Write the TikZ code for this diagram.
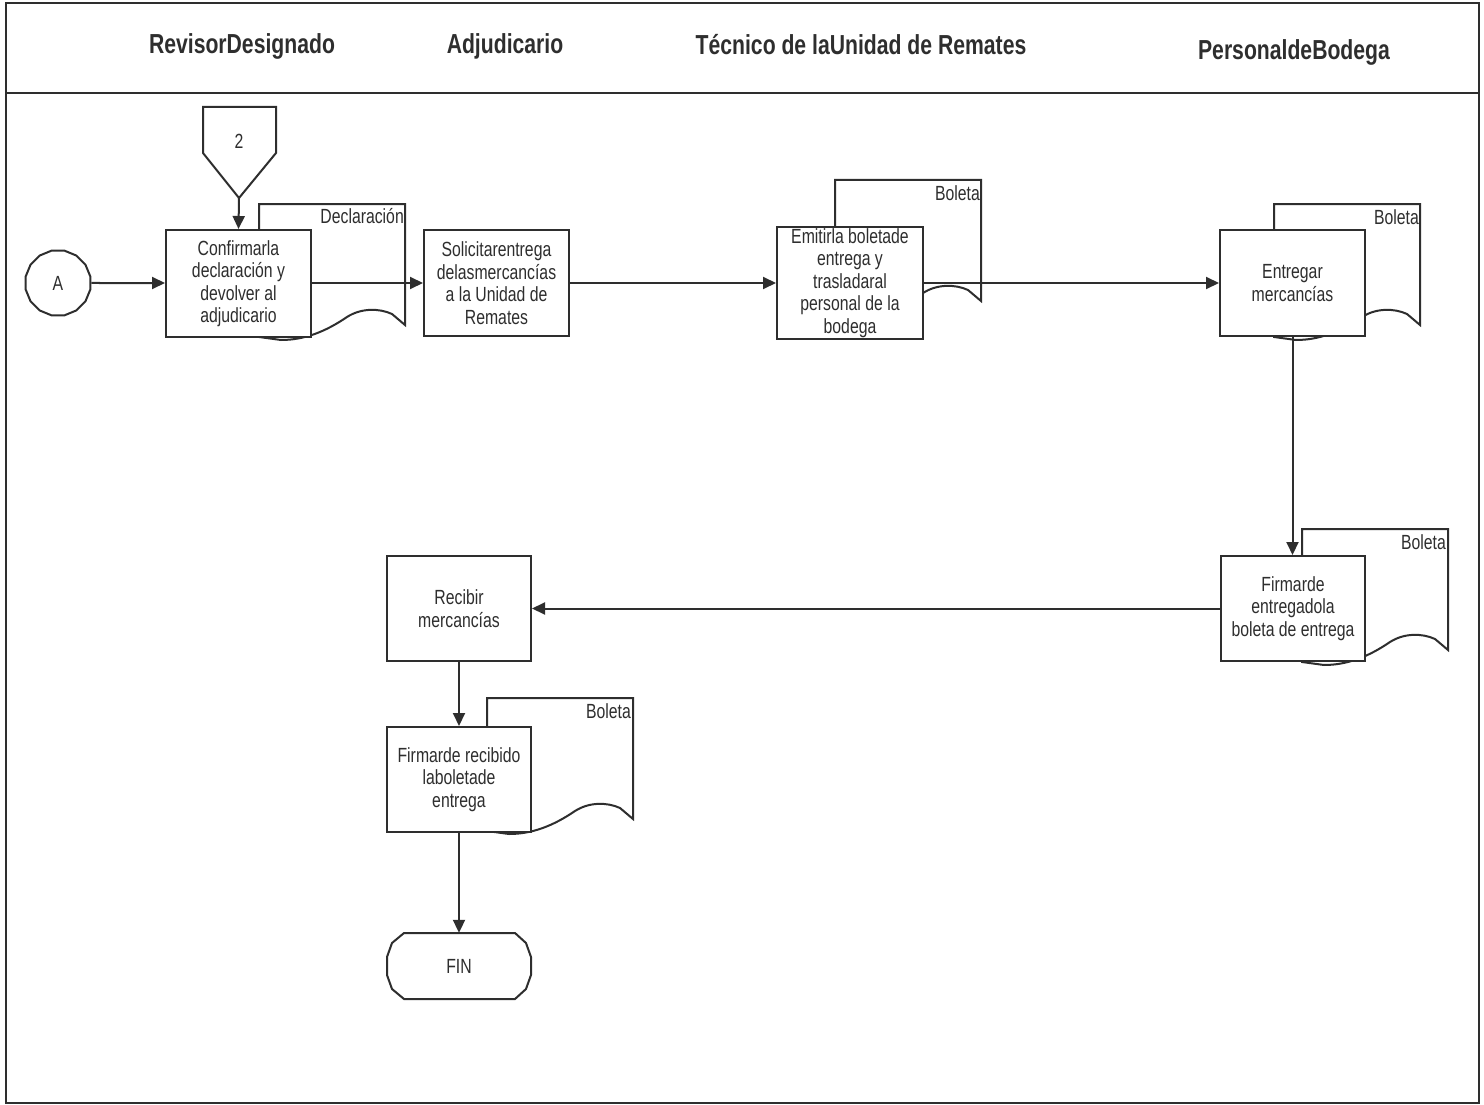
\documentclass[tikz,border=0pt]{standalone}
\usepackage{fontspec}
\setmainfont{Liberation Sans}[FakeStretch=0.77]
\usetikzlibrary{arrows.meta,shapes.geometric}
\definecolor{ink}{HTML}{2E2E2E}
\newcommand\bodyfont{\fontsize{20.5}{22.5}\selectfont}
\newcommand\hdrfont{\fontsize{27.5}{30}\selectfont\bfseries}
\tikzset{
  line/.style={draw=ink,line width=2pt},
  box/.style={draw=ink,line width=2pt,fill=white,minimum width=145pt,minimum height=106pt,
    inner sep=0pt,align=center,font=\bodyfont,text=ink},
  arr/.style={draw=ink,line width=2pt,-{Triangle[length=13pt,width=12pt]}},
  lbl/.style={anchor=north east,inner sep=1pt,font=\bodyfont,text=ink},
  hdr/.style={font=\hdrfont,text=ink,inner sep=1pt},
  docu/.pic={\draw[line,fill=white] (0,0) -- (146,0) -- (146,121) -- (133,110)
      .. controls (120,104) and (102,104) .. (88,113)
      .. controls (66,128) and (45,136) .. (22,136) -- (0,133) -- cycle;}
}
\begin{document}
\begin{tikzpicture}[x=1pt,y=-1pt]
\useasboundingbox (0,0) rectangle (1484,1105);
% frame
\draw[line] (6,3) rectangle (1479,1103);
\draw[line] (6,93) -- (1479,93);
% headers
\node[hdr] (h1) at (242,46) {RevisorDesignado};
\node[hdr] (h2) at (505,46) {Adjudicario};
\node[hdr] (h3) at (861,45) {Técnico de laUnidad de Remates};
\node[hdr] (h4) at (1294,52) {PersonaldeBodega};
% documents
\pic at (259,204) {docu};
\node[lbl] (d1) at (405,207) {Declaración};
\pic at (835,180) {docu};
\node[lbl] (d3) at (981,184) {Boleta};
\pic at (1274,204) {docu};
\node[lbl] (d4) at (1420,208) {Boleta};
\pic at (1302,529) {docu};
\node[lbl] (d5) at (1447,533) {Boleta};
\pic at (487,698) {docu};
\node[lbl] (d7) at (632,702) {Boleta};
% connector 2
\draw[line,fill=white] (203,107) -- (276,107) -- (276,153) -- (239,198) -- (203,153) -- cycle;
\node[font=\bodyfont,text=ink] (c2) at (239,141) {2};
\coordinate (c2tip) at (239,198);
% connector A
\node[line,regular polygon,regular polygon sides=16,minimum size=66pt,inner sep=0pt,
  font=\bodyfont,text=ink] (A) at (58,283) {A};
% boxes
\node[box,minimum width=145pt,minimum height=107pt] (b1) at (238.5,283.5)
  {Confirmarla\\declaración y\\devolver al\\adjudicario};
\node[box] (b2) at (496.5,283) {Solicitarentrega\\delasmercancías\\a la Unidad de\\Remates};
\node[box,minimum width=146pt,minimum height=112pt] (b3) at (850,283)
  {Emitirla boletade\\entrega y\\trasladaral\\personal de la\\bodega};
\node[box] (b4) at (1292.5,283) {Entregar\\mercancías};
\node[box,minimum width=144pt,minimum height=105pt] (b5) at (1293,608.5)
  {Firmarde\\entregadola\\boleta de entrega};
\node[box,minimum width=144pt,minimum height=105pt] (b6) at (459,608.5) {Recibir\\mercancías};
\node[box,minimum width=144pt,minimum height=105pt] (b7) at (459,779.5)
  {Firmarde recibido\\laboletade\\entrega};
% terminator
\draw[line,fill=white] (404,933) -- (515,933) -- (526,943) -- (531,957) -- (531,975)
  -- (526,989) -- (515,999) -- (404,999) -- (392,989) -- (387,975) -- (387,957)
  -- (392,943) -- cycle;
\node[minimum width=144pt,minimum height=66pt,inner sep=0pt,font=\bodyfont,text=ink]
  (fin) at (459,966) {FIN};
% connectors
\draw[arr] (c2tip) -- (b1.north);
\draw[arr] (A) -- (b1.west |- A);
\draw[arr] (b1.east |- A) -- (b2.west |- A);
\draw[arr] (b2.east |- A) -- (b3.west |- A);
\draw[arr] (b3.east |- A) -- (b4.west |- A);
\draw[arr] (b4.south) -- (b4.south |- b5.north);
\draw[arr] (b5.west) -- (b6.east);
\draw[arr] (b6.south) -- (b7.north);
\draw[arr] (b7.south) -- (fin.north);
\end{tikzpicture}
\end{document}
